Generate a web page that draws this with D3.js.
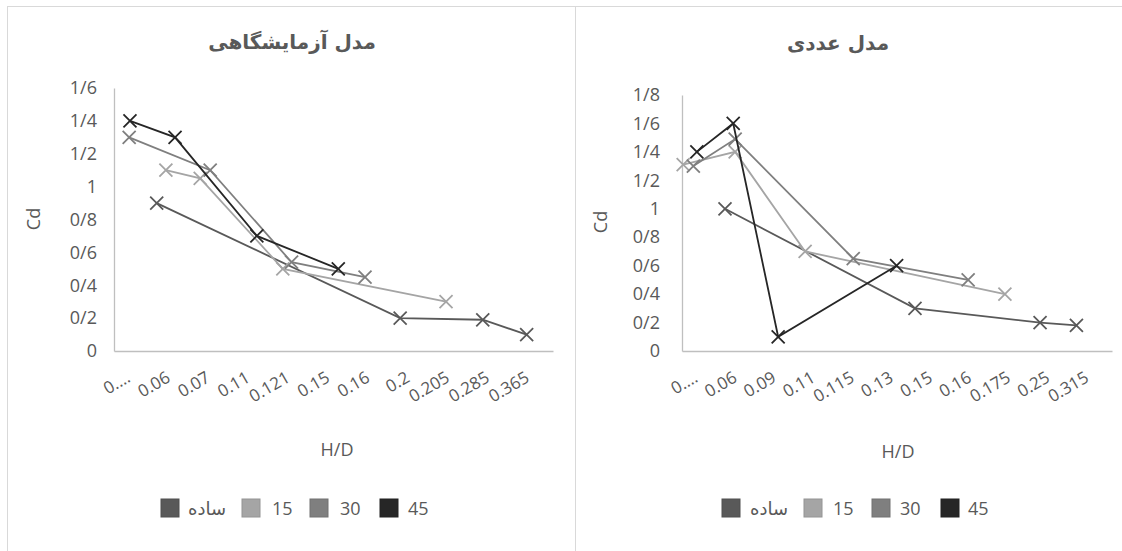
<!DOCTYPE html>
<html><head><meta charset="utf-8">
<script src="https://cdn.jsdelivr.net/npm/d3@7"></script>
<style>
body{margin:0;background:#fff;}
svg{display:block;}
text{font-family:"Open Sans","Liberation Sans",sans-serif;fill:#595959;}
.fa{font-family:"DejaVu Sans",sans-serif;}
</style></head>
<body><svg id="c" width="1122" height="551"></svg>
<script>
// ---------- data ----------
const seriesNames = ["ساده", "15", "30", "45"];
const seriesColors = ["#595959", "#a5a5a5", "#7f7f7f", "#262626"];

const labTitle = "مدل آزمایشگاهی";
const labCategories = ["0.…","0.06","0.07","0.11","0.121","0.15","0.16","0.2","0.205","0.285","0.365"];
const labYTickValues = [0, 0.2, 0.4, 0.6, 0.8, 1, 1.2, 1.4, 1.6];
const labYTickLabels = ["0","0/2","0/4","0/6","0/8","1","1/2","1/4","1/6"];
// positions along the category axis (category index units) and Cd values
const labSadePos = [1.07, 7.17, 9.24, 10.34];  const labSadeCd = [0.90, 0.20, 0.19, 0.10];
const lab15Pos   = [1.30, 2.16, 4.23, 8.32];   const lab15Cd   = [1.10, 1.05, 0.50, 0.30];
const lab30Pos   = [0.38, 2.41, 4.45, 6.29];   const lab30Cd   = [1.30, 1.10, 0.54, 0.45];
const lab45Pos   = [0.40, 1.53, 3.58, 5.62];   const lab45Cd   = [1.40, 1.30, 0.70, 0.50];

const numTitle = "مدل عددی";
const numCategories = ["0.…","0.06","0.09","0.11","0.115","0.13","0.15","0.16","0.175","0.25","0.315"];
const numYTickValues = [0, 0.2, 0.4, 0.6, 0.8, 1, 1.2, 1.4, 1.6, 1.8];
const numYTickLabels = ["0","0/2","0/4","0/6","0/8","1","1/2","1/4","1/6","1/8"];
const numSadePos = [1.10, 5.96, 9.16, 10.09];  const numSadeCd = [1.00, 0.30, 0.20, 0.18];
const num15Pos   = [0.03, 1.36, 3.15, 8.26];   const num15Cd   = [1.31, 1.40, 0.70, 0.40];
const num30Pos   = [0.29, 1.36, 4.38, 7.32];   const num30Cd   = [1.30, 1.49, 0.65, 0.50];
const num45Pos   = [0.38, 1.31, 2.46, 5.49];   const num45Cd   = [1.40, 1.60, 0.10, 0.60];

const xTitle = "H/D", yTitle = "Cd";

// ---------- drawing ----------
const svg = d3.select("#c");
// panel borders
svg.append("line").attr("x1",7).attr("x2",1122).attr("y1",6.5).attr("y2",6.5).attr("stroke","#d9d9d9");
svg.append("line").attr("x1",7.5).attr("x2",7.5).attr("y1",6).attr("y2",551).attr("stroke","#d9d9d9");
svg.append("line").attr("x1",575.5).attr("x2",575.5).attr("y1",6).attr("y2",551).attr("stroke","#d9d9d9");

function zip(p, c){ return p.map((v,i)=>({x:v, y:c[i]})); }

function drawChart(cfg){
  const g = svg.append("g");
  const x = d3.scaleLinear().domain([0, cfg.cats.length]).range([cfg.left, cfg.right]);
  const y = d3.scaleLinear().domain([0, cfg.ymax]).range([cfg.bottom, cfg.top]);

  // title
  g.append("text").attr("class","fa").attr("x",cfg.titleX).attr("y",cfg.titleY)
    .attr("text-anchor","middle").attr("font-size",20).attr("font-weight","bold")
    .attr("direction","rtl").text(cfg.title);

  // y axis
  const ya = d3.axisLeft(y).tickValues(cfg.yVals).tickSize(0).tickPadding(cfg.yPad)
    .tickFormat((d,i)=>cfg.yLabs[i]);
  const yg = g.append("g").attr("transform",`translate(${cfg.left},0)`).call(ya);
  yg.select(".domain").attr("stroke","#bfbfbf").attr("stroke-width",1.3);
  yg.selectAll("text").attr("font-size",18).attr("fill","#595959").style("font-family","Open Sans");

  // x axis
  const xa = d3.axisBottom(x).tickValues(d3.range(cfg.cats.length).map(i=>i+0.5)).tickSize(0)
    .tickFormat((d,i)=>cfg.cats[i]);
  const xg = g.append("g").attr("transform",`translate(0,${cfg.bottom})`).call(xa);
  xg.select(".domain").attr("stroke","#bfbfbf").attr("stroke-width",1.3);
  xg.selectAll(".tick text").attr("font-size",17).attr("fill","#595959").style("font-family","Open Sans")
    .attr("text-anchor","end").attr("dy",0).attr("y",0)
    .attr("transform","translate(-3,30) rotate(-30)");

  // axis titles
  g.append("text").attr("x",cfg.hdX).attr("y",cfg.hdY).attr("text-anchor","middle").attr("font-size",18).text(xTitle);
  g.append("text").attr("transform",`translate(${cfg.cdX},${cfg.cdY}) rotate(-90)`).attr("text-anchor","middle").attr("font-size",18).text(yTitle);

  // series
  const line = d3.line().x(d=>x(d.x)).y(d=>y(d.y));
  cfg.series.forEach((s,k)=>{
    const col = seriesColors[k];
    const pts = zip(s[0], s[1]);
    g.append("path").datum(pts).attr("d",line).attr("fill","none").attr("stroke",col).attr("stroke-width",1.8);
    const m = 6.5;
    g.selectAll(null).data(pts).enter().append("path")
      .attr("d",d=>{const cx=x(d.x), cy=y(d.y);
        return `M${cx-m},${cy-m}L${cx+m},${cy+m}M${cx-m},${cy+m}L${cx+m},${cy-m}`;})
      .attr("stroke",col).attr("stroke-width",1.8).attr("fill","none");
  });

  // legend
  const lg = g.append("g");
  cfg.legend.forEach((L,k)=>{
    lg.append("rect").attr("x",L[0]).attr("y",499).attr("width",18).attr("height",18)
      .attr("fill",seriesColors[k]).attr("stroke",d3.color(seriesColors[k]).darker(0.3)).attr("stroke-width",1);
    lg.append("text").attr("class", k===0?"fa":null).attr("x",L[1]).attr("y",515)
      .attr("font-size",18).text(seriesNames[k]);
  });
}

drawChart({
  title: labTitle, titleX: 292, titleY: 49,
  cats: labCategories, left: 114, right: 553, top: 88, bottom: 351, ymax: 1.6,
  yVals: labYTickValues, yLabs: labYTickLabels, yPad: 17,
  hdX: 337, hdY: 456, cdX: 40, cdY: 219,
  series: [[labSadePos,labSadeCd],[lab15Pos,lab15Cd],[lab30Pos,lab30Cd],[lab45Pos,lab45Cd]],
  legend: [[161,188],[242,272],[310,340],[380,408]]
});
drawChart({
  title: numTitle, titleX: 838, titleY: 50,
  cats: numCategories, left: 682, right: 1112, top: 95, bottom: 351, ymax: 1.8,
  yVals: numYTickValues, yLabs: numYTickLabels, yPad: 22,
  hdX: 898, hdY: 458, cdX: 607, cdY: 222,
  series: [[numSadePos,numSadeCd],[num15Pos,num15Cd],[num30Pos,num30Cd],[num45Pos,num45Cd]],
  legend: [[722,750],[804,833],[872,900],[941,968]]
});
</script></body></html>
